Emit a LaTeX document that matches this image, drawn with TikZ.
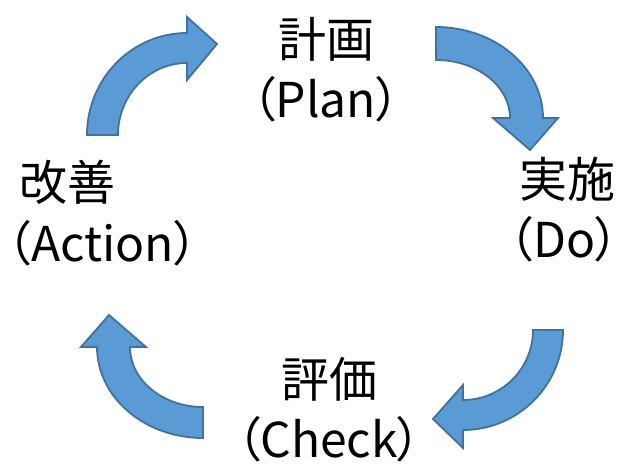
\documentclass[tikz,border=0pt]{standalone}
\usepackage{fontspec}
\newfontfamily\jpfont[RawFeature={+palt}]{Noto Sans CJK JP}
\usepackage{xcolor}
\usetikzlibrary{positioning}
\definecolor{pdcafill}{HTML}{5B9BD5}
\definecolor{pdcaline}{HTML}{41719C}
\tikzset{
    cyclearrow/.style={draw=pdcaline, fill=pdcafill, line width=1.8pt, line join=miter},
    phase/.style={font=\jpfont\fontsize{48}{60}\selectfont, inner sep=0pt, align=center}
}

\begin{document}
\begin{tikzpicture}[x=1pt, y=-1pt]
            \useasboundingbox (0,0) rectangle (629,465);
            \node (plan) [phase, anchor=base] at (326,118) {計画\\（Plan）};
            \node (do) [phase, align=left, anchor=base west] at (519,258) {実施\\\kern-10pt（Do）};
            \node (check) [phase, anchor=base] at (329,457) {評価\\（Check）};
            \node (act) [phase, align=left, anchor=base west] at (19,261) {改善\\\kern-12pt（Action）};

            \path[cyclearrow] (436,27) .. controls (495.1,27) and (543,67.8) .. (543,118)
                -- (558,118) -- (530,150) -- (493,118) -- (510,118)
                .. controls (510,86) and (476.8,60) .. (436,60) -- cycle;
            \path[cyclearrow] (563,330) .. controls (563,385.2) and (518.2,430) .. (463,430)
                -- (463,448) -- (433,419) -- (463,385) -- (463,400)
                .. controls (501.6,400) and (533,368.6) .. (533,330) -- cycle;
            \path[cyclearrow] (203,438) .. controls (144.5,438) and (97,397.2) .. (97,347)
                -- (81,347) -- (109,315) -- (146,347) -- (130,347)
                .. controls (130,380.1) and (162.7,407) .. (203,407) -- cycle;
            \path[cyclearrow] (87,135) .. controls (87,78.7) and (131.8,33) .. (187,33)
                -- (187,17) -- (217,44) -- (187,80) -- (187,63)
                .. controls (148.9,63) and (118,95.3) .. (118,135) -- cycle;
        \end{tikzpicture}
\end{document}
